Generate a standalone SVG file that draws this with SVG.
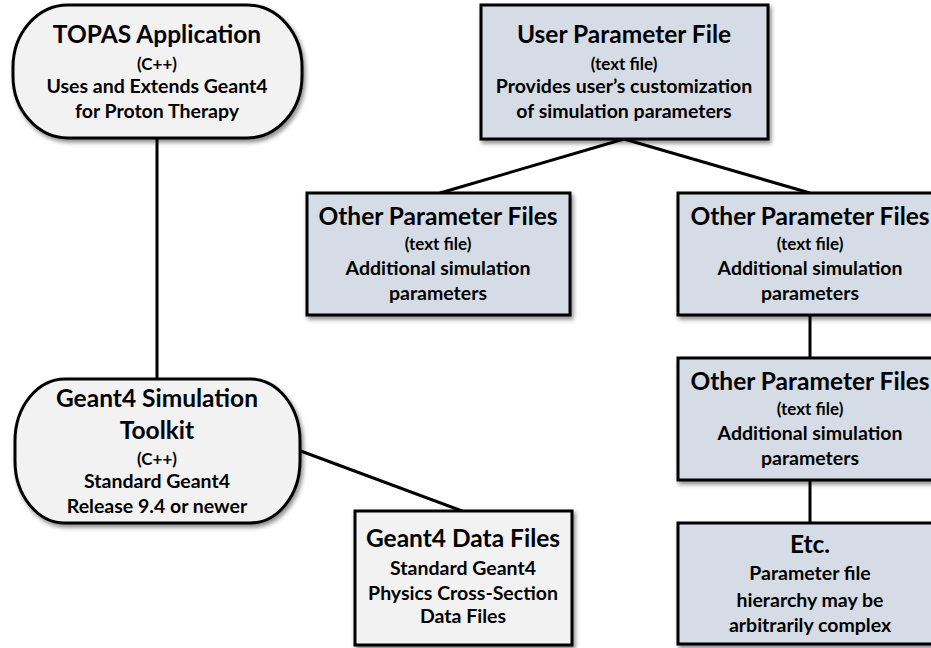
<svg xmlns="http://www.w3.org/2000/svg" width="931" height="648" viewBox="0 0 931 648">
<defs>
<filter id="sh" x="-10%" y="-10%" width="130%" height="130%">
<feDropShadow dx="2" dy="3" stdDeviation="2" flood-color="#000" flood-opacity="0.45"/>
</filter>
<style>
.pill{fill:#f2f2f2;stroke:#000;stroke-width:3;filter:url(#sh)}
.box{fill:#d6dce5;stroke:#000;stroke-width:3;filter:url(#sh)}
.gbox{fill:#f2f2f2;stroke:#000;stroke-width:3;filter:url(#sh)}
.ln{stroke:#000;stroke-width:3;fill:none}
text{font-family:Lato,"Open Sans","Liberation Sans",sans-serif;font-weight:bold;fill:#000;text-anchor:middle}
.t{font-size:24.5px}
.b{font-size:19.5px}
.s{font-size:17px}
</style>
</defs>
<rect width="931" height="648" fill="#fff"/>
<g id="connectors">
<line class="ln" x1="157" y1="138" x2="157" y2="379"/>
<line class="ln" x1="624" y1="139" x2="440" y2="193"/>
<line class="ln" x1="624" y1="139" x2="810" y2="193"/>
<line class="ln" x1="810" y1="315" x2="810" y2="358"/>
<line class="ln" x1="810" y1="480" x2="810" y2="523"/>
<line class="ln" x1="298" y1="450" x2="462" y2="511"/>
</g>
<g id="topas">
<rect class="pill" x="13" y="5" width="289" height="133" rx="55" ry="62"/>
<text class="t" x="157" y="43">TOPAS Application</text>
<text class="s" x="157" y="70">(C++)</text>
<text class="b" x="157" y="93">Uses and Extends Geant4</text>
<text class="b" x="157" y="118">for Proton Therapy</text>
</g>
<g id="user-param">
<rect class="box" x="481" y="5" width="287" height="134"/>
<text class="t" x="624" y="43">User Parameter File</text>
<text class="s" x="624" y="70">(text file)</text>
<text class="b" x="624" y="93">Provides user’s customization</text>
<text class="b" x="624" y="118">of simulation parameters</text>
</g>
<g id="other1">
<rect class="box" x="307" y="193" width="263" height="122"/>
<text class="t" x="438" y="225">Other Parameter Files</text>
<text class="s" x="438" y="250">(text file)</text>
<text class="b" x="438" y="275">Additional simulation</text>
<text class="b" x="438" y="300">parameters</text>
</g>
<g id="other2">
<rect class="box" x="678" y="193" width="264" height="122"/>
<text class="t" x="810" y="225">Other Parameter Files</text>
<text class="s" x="810" y="250">(text file)</text>
<text class="b" x="810" y="275">Additional simulation</text>
<text class="b" x="810" y="300">parameters</text>
</g>
<g id="other3">
<rect class="box" x="678" y="358" width="264" height="122"/>
<text class="t" x="810" y="390">Other Parameter Files</text>
<text class="s" x="810" y="415">(text file)</text>
<text class="b" x="810" y="440">Additional simulation</text>
<text class="b" x="810" y="465">parameters</text>
</g>
<g id="etc">
<rect class="box" x="678" y="523" width="264" height="121"/>
<text class="t" x="810" y="553">Etc.</text>
<text class="b" x="810" y="580">Parameter file</text>
<text class="b" x="810" y="607">hierarchy may be</text>
<text class="b" x="810" y="632">arbitrarily complex</text>
</g>
<g id="geant4-sim">
<rect class="pill" x="15" y="379" width="285" height="144" rx="50" ry="62"/>
<text class="t" x="157" y="407">Geant4 Simulation</text>
<text class="t" x="157" y="439">Toolkit</text>
<text class="s" x="157" y="465">(C++)</text>
<text class="b" x="157" y="488">Standard Geant4</text>
<text class="b" x="157" y="513">Release 9.4 or newer</text>
</g>
<g id="geant4-data">
<rect class="gbox" x="355" y="511" width="217" height="134"/>
<text class="t" x="463" y="547">Geant4 Data Files</text>
<text class="b" x="463" y="575">Standard Geant4</text>
<text class="b" x="463" y="600">Physics Cross-Section</text>
<text class="b" x="463" y="623">Data Files</text>
</g>
</svg>
